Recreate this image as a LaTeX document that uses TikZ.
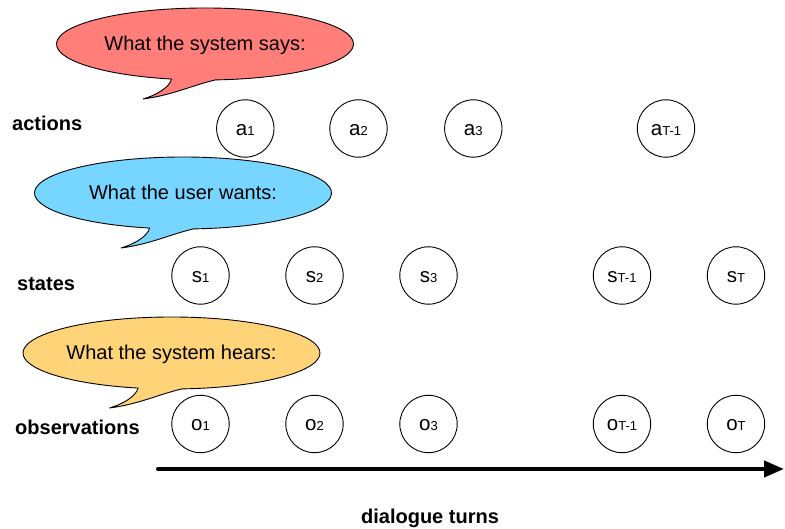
\documentclass[tikz,border=0pt]{standalone}
\usepackage{fontspec}
\setmainfont{Liberation Sans}
\usetikzlibrary{arrows.meta}

\definecolor{salmon}{HTML}{FF7E79}
\definecolor{sky}{HTML}{76D6FF}
\definecolor{cantaloupe}{HTML}{FFD479}

% speech bubble centred at (#1,#2), filled with #3, saying #5, node name #4
\newcommand{\speechbubble}[5]{%
  \begin{scope}[shift={(#1,#2)}]
    \path[bubble, fill=#3]
      (274:148.5 and 36)
      arc[start angle=274, end angle=617, x radius=148.5, y radius=36]
      .. controls +(-2,-8) and +(14,4) .. (-62,-55)
      .. controls +(30,4) and +(-25,-6) .. (274:148.5 and 36) -- cycle;
    \node[bubbletext] (#4) at (0,-7) {#5};
  \end{scope}}

\newcommand{\sub}[1]{{\fontsize{13}{15}\selectfont #1}}

\begin{document}
\begin{tikzpicture}[x=1pt, y=1pt,
  bubble/.style={draw=black, line width=0.9pt, line join=round},
  bubbletext/.style={anchor=base, inner sep=0pt, font=\fontsize{20}{24}\selectfont},
  var/.style={circle, draw=black, line width=0.9pt, minimum size=57.4pt,
    inner sep=0pt, text height=14pt, text depth=0pt,
    font=\fontsize{20.5}{24}\selectfont},
  rowlabel/.style={anchor=base west, inner sep=0pt,
    font=\bfseries\fontsize{20}{24}\selectfont},
  timeline/.style={line width=4pt, line cap=round,
    -{Triangle[length=20pt, width=16pt]}}]

\useasboundingbox (0,0) rectangle (785,529);

% speech bubbles
\speechbubble{205}{485}{salmon}{says}{What the system says:}
\speechbubble{183}{336}{sky}{wants}{What the user wants:}
\speechbubble{171.5}{176}{cantaloupe}{hears}{What the system hears:}

% row labels
\node[rowlabel] (lact) at (12,398) {actions};
\node[rowlabel] (lst) at (17,238.5) {states};
\node[rowlabel] (lobs) at (15,94) {observations};

% actions
\node[var] (a1) at (245.3,400.5) {a\sub{1}};
\node[var] (a2) at (358.5,400.5) {a\sub{2}};
\node[var] (a3) at (473.3,400.5) {a\sub{3}};
\node[var] (aT1) at (666,400.5) {a\sub{T-1}};

% states
\node[var] (s1) at (200.5,253.5) {s\sub{1}};
\node[var] (s2) at (314.5,253.5) {s\sub{2}};
\node[var] (s3) at (428.5,253.5) {s\sub{3}};
\node[var] (sT1) at (622,253.5) {s\sub{T-1}};
\node[var] (sT) at (736,253.5) {s\sub{T}};

% observations
\node[var] (o1) at (200.5,105) {o\sub{1}};
\node[var] (o2) at (314.5,105) {o\sub{2}};
\node[var] (o3) at (428.5,105) {o\sub{3}};
\node[var] (oT1) at (622,105) {o\sub{T-1}};
\node[var] (oT) at (736,105) {o\sub{T}};

% time axis
\coordinate (t0) at (158,60);
\coordinate (t1) at (784,60);
\draw[timeline] (t0) -- (t1);
\node[anchor=base, inner sep=0pt, font=\bfseries\fontsize{20}{24}\selectfont]
  (turns) at (430,5) {dialogue turns};

\end{tikzpicture}
\end{document}
